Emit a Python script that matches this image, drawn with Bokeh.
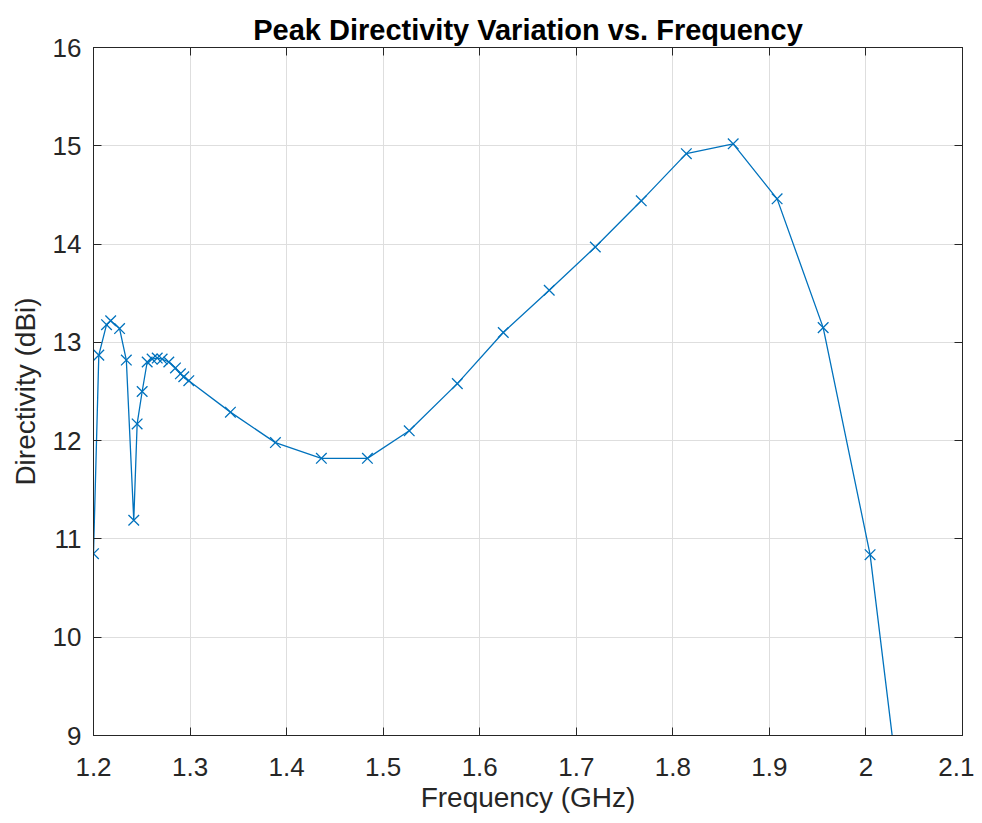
from bokeh.plotting import figure
from bokeh.models import LinearAxis, Range1d, FixedTicker
from bokeh.embed import file_html
from bokeh.resources import INLINE

freq_ghz = [1.2000, 1.2055, 1.2135, 1.2178, 1.2270, 1.2340, 1.2417, 1.2452,
            1.2504, 1.2556, 1.2607, 1.2660, 1.2711, 1.2780, 1.2849, 1.2900,
            1.2935, 1.2987, 1.3418, 1.3884, 1.4360, 1.4837, 1.5270, 1.5768,
            1.6244, 1.6720, 1.7197, 1.7673, 1.8140, 1.8625, 1.9080, 1.9557,
            2.0043, 2.0520]
directivity_dbi = [10.85, 12.87, 13.18, 13.22, 13.14, 12.82, 11.19, 12.17,
                   12.50, 12.80, 12.83, 12.84, 12.83, 12.80, 12.74, 12.68,
                   12.65, 12.61, 12.29, 11.98, 11.82, 11.82, 12.10, 12.58,
                   13.10, 13.53, 13.97, 14.44, 14.92, 15.02, 14.46, 13.15,
                   10.84, 7.00]
x_ticks = [1.2, 1.3, 1.4, 1.5, 1.6, 1.7, 1.8, 1.9, 2.0, 2.1]
x_tick_labels = ["1.2", "1.3", "1.4", "1.5", "1.6", "1.7", "1.8", "1.9", "2", "2.1"]
y_ticks = [9, 10, 11, 12, 13, 14, 15, 16]

FONT = "Liberation Sans"
TXT = "#262626"
BLUE = "#0072BD"

p = figure(width=974, height=815, output_backend="svg", toolbar_location=None,
           x_range=Range1d(1.2, 2.1), y_range=Range1d(9, 16),
           min_border_left=93, min_border_right=12, min_border_top=47,
           min_border_bottom=80)

p.title.text = "Peak Directivity Variation vs. Frequency"
p.title.align = "center"
p.title.text_font = FONT
p.title.text_font_size = "29px"
p.title.text_font_style = "bold"
p.title.text_color = "#000000"
p.title.offset = 0
p.title.standoff = 3

p.outline_line_color = TXT
p.outline_line_width = 1
p.background_fill_color = "white"
p.border_fill_color = "white"

for ax in (p.xaxis[0], p.yaxis[0]):
    ax.axis_line_color = TXT
    ax.major_tick_in = 8
    ax.major_tick_out = 0
    ax.minor_tick_line_color = None
    ax.major_tick_line_color = TXT
    ax.major_label_text_font = FONT
    ax.major_label_text_font_size = "26px"
    ax.major_label_text_color = TXT
    ax.axis_label_text_font = FONT
    ax.axis_label_text_font_size = "28px"
    ax.axis_label_text_font_style = "normal"
    ax.axis_label_text_color = TXT

p.xaxis[0].ticker = FixedTicker(ticks=x_ticks)
p.xaxis[0].major_label_overrides = {t: s for t, s in zip(x_ticks, x_tick_labels)}
p.yaxis[0].ticker = FixedTicker(ticks=y_ticks)
p.xaxis[0].axis_label = "Frequency (GHz)"
p.yaxis[0].axis_label = "Directivity (dBi)"
p.xaxis[0].major_label_standoff = 22
p.yaxis[0].major_label_standoff = 12
p.xaxis[0].axis_label_standoff = 3
p.yaxis[0].axis_label_standoff = 9

# mirrored tick marks on the top and right edges (box style), without labels
top = LinearAxis(ticker=FixedTicker(ticks=x_ticks),
                 major_label_overrides={t: "" for t in x_ticks},
                 major_label_text_font_size="0px",
                 major_tick_in=8, major_tick_out=0, minor_tick_line_color=None,
                 axis_line_color=TXT, major_tick_line_color=TXT, major_label_standoff=0)
right = LinearAxis(ticker=FixedTicker(ticks=y_ticks),
                   major_label_overrides={t: "" for t in y_ticks},
                   major_label_text_font_size="0px",
                   major_tick_in=8, major_tick_out=0, minor_tick_line_color=None,
                   axis_line_color=TXT, major_tick_line_color=TXT, major_label_standoff=0)
p.add_layout(top, "above")
p.add_layout(right, "right")

p.grid.grid_line_color = "#dedede"
p.grid.grid_line_width = 1
p.xgrid.ticker = FixedTicker(ticks=x_ticks)
p.ygrid.ticker = FixedTicker(ticks=y_ticks)

p.line(freq_ghz, directivity_dbi, line_color=BLUE, line_width=1.3)
p.scatter(freq_ghz, directivity_dbi, marker="x", size=15, line_color=BLUE, line_width=1.3)

open("out.html", "w").write(file_html(p, INLINE))
